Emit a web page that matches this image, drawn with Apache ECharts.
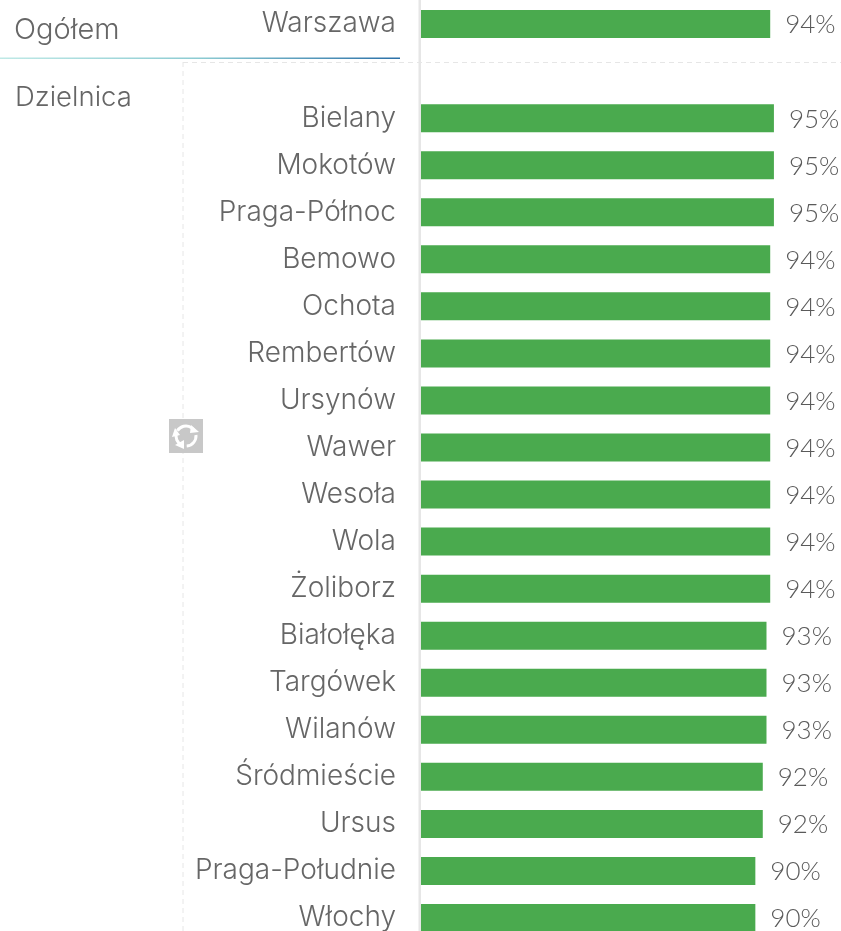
<!DOCTYPE html>
<html><head><meta charset="utf-8">
<style>html,body{margin:0;padding:0;background:#fff;overflow:hidden}#c{width:841px;height:931px}</style>
<script src="https://cdn.jsdelivr.net/npm/echarts@6/dist/echarts.min.js"></script>
</head><body><div id="c"></div>
<script>
const categories = ['Warszawa','','Bielany','Mokotów','Praga-Północ','Bemowo','Ochota','Rembertów','Ursynów','Wawer','Wesoła','Wola','Żoliborz','Białołęka','Targówek','Wilanów','Śródmieście','Ursus','Praga-Południe','Włochy'];
const values = [94,null,95,95,95,94,94,94,94,94,94,94,94,93,93,93,92,92,90,90];
const sectionLabels = ['Ogółem','Dzielnica'];
const font = 'Inter';
const textColor = '#666666';
const chart = echarts.init(document.getElementById('c'), null, {renderer:'canvas'});
chart.setOption({
  animation:false,
  grid:{left:421,top:0.5,width:371.5,height:941,outerBoundsMode:'none',containLabel:false},
  xAxis:{type:'value',min:0,max:100,show:false},
  yAxis:{type:'category',inverse:true,data:categories,
    axisLine:{show:false},
    axisTick:{show:false},
    axisLabel:{margin:25,fontFamily:font,fontWeight:300,fontSize:28,color:textColor,align:'right',verticalAlign:'middle',padding:[2,0,0,0],hideOverlap:false}},
  series:[{type:'bar',data:values,barWidth:28,itemStyle:{color:'#4aaa4e'},
    label:{show:true,position:'right',distance:15,offset:[0,1],formatter:p=>p.value+'%',fontFamily:'Lato',fontWeight:300,fontSize:26,color:'#5a5a5a'}}],
  graphic:[
    {type:'rect',silent:true,shape:{x:418.5,y:0,width:2.5,height:931},style:{fill:'#e6e6e6'}},
    {type:'line',silent:true,shape:{x1:183,y1:62.5,x2:841,y2:62.5},style:{stroke:'#e6e6e6',lineWidth:1,lineDash:[5,4]}},
    {type:'line',silent:true,shape:{x1:183,y1:62,x2:183,y2:931},style:{stroke:'#e6e6e6',lineWidth:1,lineDash:[5,4]}},
    {type:'rect',silent:true,shape:{x:0,y:57.5,width:400,height:1.5},style:{fill:new echarts.graphic.LinearGradient(0,0,1,0,[{offset:0,color:'#bfe9e6'},{offset:0.5,color:'#8ccbd2'},{offset:1,color:'#2b70a8'}])}},
    {type:'text',style:{x:14,y:30,text:sectionLabels[0],font:'300 29px '+font,fill:textColor,verticalAlign:'middle'}},
    {type:'text',style:{x:15,y:98,text:sectionLabels[1],font:'300 27.5px '+font,fill:textColor,verticalAlign:'middle'}},
    {type:'rect',silent:true,shape:{x:169,y:419,width:34,height:34},style:{fill:'#c8c8c8'}},
    {type:'arc',silent:true,shape:{cx:186,cy:436,r:10,startAngle:-2.6,endAngle:-0.5},style:{stroke:'#fff',fill:null,lineWidth:3}},
    {type:'arc',silent:true,shape:{cx:186,cy:436,r:10,startAngle:-0.1,endAngle:1.5},style:{stroke:'#fff',fill:null,lineWidth:3}},
    {type:'arc',silent:true,shape:{cx:186,cy:436,r:10,startAngle:2.0,endAngle:3.5},style:{stroke:'#fff',fill:null,lineWidth:3}},
    {type:'polygon',silent:true,shape:{points:[[191,425],[199,432],[190,433]]},style:{fill:'#fff'}},
    {type:'polygon',silent:true,shape:{points:[[184,440],[184,449],[175,445]]},style:{fill:'#fff'}},
    {type:'polygon',silent:true,shape:{points:[[172,437],[175,428],[180,435]]},style:{fill:'#fff'}}
  ]
});
</script></body></html>
